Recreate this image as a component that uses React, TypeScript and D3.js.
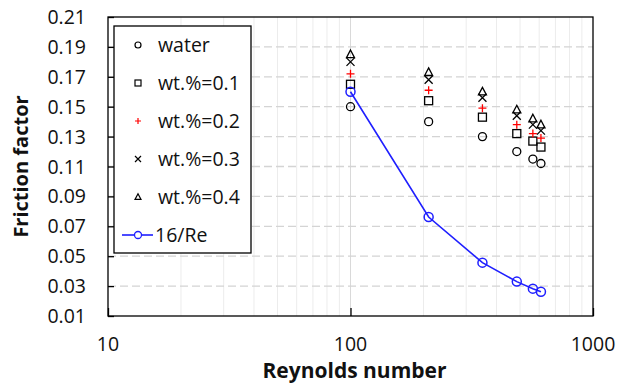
import React, { useEffect, useRef } from "react";
import * as d3 from "d3";

// Reynolds numbers of the measurements
const reynolds = [100, 210, 350, 485, 565, 610];

// friction factor per concentration
const water = [0.15, 0.14, 0.13, 0.12, 0.115, 0.112];
const wt01 = [0.165, 0.154, 0.143, 0.132, 0.127, 0.123];
const wt02 = [0.172, 0.161, 0.149, 0.138, 0.132, 0.129];
const wt03 = [0.18, 0.168, 0.156, 0.144, 0.138, 0.134];
const wt04 = [0.185, 0.173, 0.16, 0.148, 0.142, 0.138];
const laminar = [0.16, 0.0762, 0.0457, 0.033, 0.0283, 0.0262]; // 16/Re

const yTicks = [0.01, 0.03, 0.05, 0.07, 0.09, 0.11, 0.13, 0.15, 0.17, 0.19, 0.21];
const xTicks = [10, 100, 1000];

type Shape = "circle" | "square" | "plus" | "cross" | "triangle";
const series: { name: string; values: number[]; shape: Shape; color: string }[] = [
  { name: "water", values: water, shape: "circle", color: "#000" },
  { name: "wt.%=0.1", values: wt01, shape: "square", color: "#000" },
  { name: "wt.%=0.2", values: wt02, shape: "plus", color: "#ff0000" },
  { name: "wt.%=0.3", values: wt03, shape: "cross", color: "#000" },
  { name: "wt.%=0.4", values: wt04, shape: "triangle", color: "#000" },
];

const FONT = "'Open Sans', 'DejaVu Sans', sans-serif";

const App: React.FC = () => {
  const svgRef = useRef<SVGSVGElement | null>(null);

  useEffect(() => {
    const svg = d3.select(svgRef.current);
    svg.selectAll("*").remove();

    const w = 619;
    const h = 385;
    const m = { top: 17, right: 26, bottom: 69, left: 108 };

    svg.attr("width", w).attr("height", h).style("background", "#fff");

    const x = d3.scaleLog().domain([10, 1000]).range([m.left, w - m.right]);
    const y = d3.scaleLinear().domain([0.01, 0.21]).range([h - m.bottom, m.top]);

    // minor vertical gridlines
    const minor = d3.range(2, 10).flatMap(k => [k * 10, k * 100]);
    svg.append("g")
      .selectAll("line")
      .data(minor)
      .enter()
      .append("line")
      .attr("x1", d => x(d)).attr("x2", d => x(d))
      .attr("y1", m.top).attr("y2", h - m.bottom)
      .attr("stroke", "#ececec").attr("stroke-width", 1);

    svg.append("line")
      .attr("x1", x(100)).attr("x2", x(100))
      .attr("y1", m.top).attr("y2", h - m.bottom)
      .attr("stroke", "#d9d9d9").attr("stroke-width", 1);

    // dashed horizontal gridlines
    svg.append("g")
      .selectAll("line")
      .data(yTicks.slice(1, -1))
      .enter()
      .append("line")
      .attr("x1", m.left).attr("x2", w - m.right)
      .attr("y1", d => y(d)).attr("y2", d => y(d))
      .attr("stroke", "#d4d4d4").attr("stroke-width", 1.3)
      .attr("stroke-dasharray", "8,4");

    // y axis (inside ticks)
    const yAxis = svg.append("g")
      .attr("transform", `translate(${m.left},0)`)
      .call(d3.axisRight(y).tickValues(yTicks).tickSize(6).tickFormat(() => ""));
    yAxis.select(".domain").remove();
    yAxis.selectAll("line").attr("stroke", "#000").attr("stroke-width", 1.3);

    svg.append("g")
      .selectAll("text")
      .data(yTicks)
      .enter()
      .append("text")
      .attr("x", m.left - 22)
      .attr("y", d => y(d))
      .attr("dy", "0.36em")
      .attr("text-anchor", "end")
      .style("font-family", FONT)
      .style("font-size", "19.5px")
      .attr("fill", "#111")
      .text(d => d.toFixed(2));

    // x axis (inside major ticks)
    const xAxis = svg.append("g")
      .attr("transform", `translate(0,${h - m.bottom})`)
      .call(d3.axisTop(x).tickValues(xTicks).tickSize(8).tickFormat(() => ""));
    xAxis.select(".domain").remove();
    xAxis.selectAll("line").attr("stroke", "#000").attr("stroke-width", 1.3);

    svg.append("g")
      .selectAll("text")
      .data(xTicks)
      .enter()
      .append("text")
      .attr("x", d => x(d))
      .attr("y", h - m.bottom + 35)
      .attr("text-anchor", "middle")
      .style("font-family", FONT)
      .style("font-size", "19.5px")
      .attr("fill", "#111")
      .text(d => String(d));

    // plot border
    svg.append("rect")
      .attr("x", m.left).attr("y", m.top)
      .attr("width", w - m.left - m.right).attr("height", h - m.top - m.bottom)
      .attr("fill", "none").attr("stroke", "#000").attr("stroke-width", 1.3);

    // axis titles
    svg.append("text")
      .attr("x", (m.left + w - m.right) / 2 + 4)
      .attr("y", h - 7)
      .attr("text-anchor", "middle")
      .style("font-family", FONT)
      .style("font-size", "21px")
      .style("font-weight", "bold")
      .attr("fill", "#111")
      .text("Reynolds number");

    svg.append("text")
      .attr("transform", `translate(28,${(m.top + h - m.bottom) / 2}) rotate(-90)`)
      .attr("text-anchor", "middle")
      .style("font-family", FONT)
      .style("font-size", "20px")
      .style("font-weight", "bold")
      .attr("fill", "#111")
      .text("Friction factor");

    const drawMarker = (
      g: d3.Selection<SVGGElement, unknown, null, undefined>,
      shape: Shape, cx: number, cy: number, s: number, color: string, sw: number
    ) => {
      const r = s / 2;
      if (shape === "circle") {
        g.append("circle").attr("cx", cx).attr("cy", cy).attr("r", r)
          .attr("fill", "none").attr("stroke", color).attr("stroke-width", sw);
      } else if (shape === "square") {
        g.append("rect").attr("x", cx - r).attr("y", cy - r).attr("width", s).attr("height", s)
          .attr("fill", "none").attr("stroke", color).attr("stroke-width", sw);
      } else if (shape === "plus") {
        g.append("path").attr("d", `M${cx - r},${cy}H${cx + r}M${cx},${cy - r}V${cy + r}`)
          .attr("stroke", color).attr("stroke-width", sw);
      } else if (shape === "cross") {
        g.append("path").attr("d", `M${cx - r},${cy - r}L${cx + r},${cy + r}M${cx - r},${cy + r}L${cx + r},${cy - r}`)
          .attr("stroke", color).attr("stroke-width", sw);
      } else {
        g.append("path").attr("d", `M${cx},${cy - r * 1.1}L${cx + r},${cy + r * 0.8}L${cx - r},${cy + r * 0.8}Z`)
          .attr("fill", "none").attr("stroke", color).attr("stroke-width", sw);
      }
    };

    // data markers
    const marks = svg.append("g");
    series.forEach(s => {
      s.values.forEach((v, i) => drawMarker(marks, s.shape, x(reynolds[i]), y(v), 8, s.color, 1.3));
    });

    // 16/Re line
    const line = d3.line<number>().x((_, i) => x(reynolds[i])).y(d => y(d));
    svg.append("path")
      .datum(laminar)
      .attr("d", line)
      .attr("fill", "none")
      .attr("stroke", "#1f1fff")
      .attr("stroke-width", 1.6);
    svg.append("g")
      .selectAll("circle")
      .data(laminar)
      .enter()
      .append("circle")
      .attr("cx", (_, i) => x(reynolds[i]))
      .attr("cy", d => y(d))
      .attr("r", 4.5)
      .attr("fill", "none")
      .attr("stroke", "#1f1fff")
      .attr("stroke-width", 1.5);

    // legend
    const lg = svg.append("g");
    lg.append("rect")
      .attr("x", 114).attr("y", 26).attr("width", 137).attr("height", 227)
      .attr("fill", "#fff").attr("stroke", "#000").attr("stroke-width", 1.3);
    const rowY = (i: number) => 45 + i * 38;
    series.forEach((s, i) => {
      drawMarker(lg, s.shape, 138, rowY(i), 6, s.color, 1.2);
      lg.append("text")
        .attr("x", 158).attr("y", rowY(i)).attr("dy", "0.36em")
        .style("font-family", FONT).style("font-size", "19.5px").attr("fill", "#111")
        .text(s.name);
    });
    const ly = rowY(5);
    lg.append("line").attr("x1", 122).attr("x2", 153).attr("y1", ly).attr("y2", ly)
      .attr("stroke", "#1f1fff").attr("stroke-width", 1.6);
    lg.append("circle").attr("cx", 138).attr("cy", ly).attr("r", 3.5)
      .attr("fill", "#fff").attr("stroke", "#1f1fff").attr("stroke-width", 1.3);
    lg.append("text")
      .attr("x", 155).attr("y", ly).attr("dy", "0.36em")
      .style("font-family", FONT).style("font-size", "19.5px").attr("fill", "#111")
      .text("16/Re");
  }, []);

  return (
    <div style={{ position: "absolute", left: 0, top: 0, width: 619, height: 385 }}>
      <svg ref={svgRef}></svg>
    </div>
  );
};

export default App;
